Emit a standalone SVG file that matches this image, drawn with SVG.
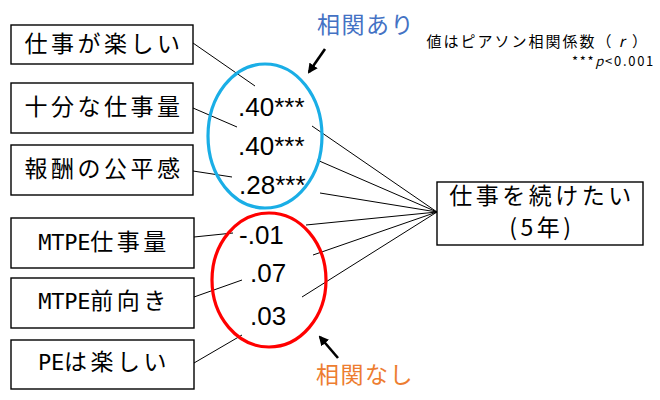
<svg xmlns="http://www.w3.org/2000/svg" width="660" height="400" viewBox="0 0 660 400">
<defs>
<style>
.box{fill:#fff;stroke:#000;stroke-width:1.4}
.lbl{font-family:"Noto Sans CJK JP","Noto Sans",sans-serif;font-size:23px;letter-spacing:3.5px;fill:#000;text-anchor:middle}
.lat{font-family:"DejaVu Sans Mono","Liberation Mono",monospace;font-size:22px;letter-spacing:-0.3px}
.num{font-family:"Liberation Sans",Arial,sans-serif;font-size:26px;fill:#000}
.conn line{stroke:#000;stroke-width:1}
.note{font-family:"Noto Sans CJK JP","Noto Sans",sans-serif;fill:#000;text-anchor:end}
.arr{stroke:#000;stroke-width:2.6;fill:none}
</style>
<marker id="ah" viewBox="0 0 10 10" refX="8" refY="5" markerWidth="10" markerHeight="10" markerUnits="userSpaceOnUse" orient="auto">
<path d="M0,0 L10,5 L0,10 Z" fill="#000"/>
</marker>
</defs>
<rect width="660" height="400" fill="#fff"/>

<g class="conn" id="connectors">
<line x1="193" y1="43" x2="255" y2="86"/>
<line x1="312" y1="126" x2="437" y2="212"/>
<line x1="193" y1="108" x2="237" y2="127"/>
<line x1="317" y1="160" x2="437" y2="212"/>
<line x1="193" y1="171" x2="232" y2="177"/>
<line x1="320" y1="193" x2="437" y2="212"/>
<line x1="194" y1="237" x2="233" y2="233"/>
<line x1="306" y1="225" x2="437" y2="212"/>
<line x1="194" y1="297" x2="242" y2="280"/>
<line x1="313" y1="255" x2="437" y2="212"/>
<line x1="194" y1="363" x2="242" y2="335"/>
<line x1="302" y1="297" x2="437" y2="212"/>
</g>

<g id="n1"><rect class="box" x="11" y="25" width="182" height="39"/><text class="lbl" x="104" y="52">仕事が楽しい</text></g>
<g id="n2"><rect class="box" x="11" y="83" width="182" height="50"/><text class="lbl" x="104" y="115">十分な仕事量</text></g>
<g id="n3"><rect class="box" x="11" y="145" width="182" height="50"/><text class="lbl" x="104" y="177">報酬の公平感</text></g>
<g id="n4"><rect class="box" x="11" y="218" width="183" height="50"/><text class="lbl" x="104" y="250"><tspan class="lat">MTPE</tspan>仕事量</text></g>
<g id="n5"><rect class="box" x="11" y="278" width="183" height="50"/><text class="lbl" x="104" y="309"><tspan class="lat">MTPE</tspan>前向き</text></g>
<g id="n6"><rect class="box" x="11" y="340" width="183" height="49"/><text class="lbl" x="104" y="370"><tspan class="lat">PE</tspan>は楽しい</text></g>

<g id="target"><rect class="box" x="437" y="182" width="206" height="63"/>
<text class="lbl" x="542" y="204">仕事を続けたい</text>
<text class="lbl" x="542" y="236">(5年)</text></g>

<g id="group-sig">
<ellipse cx="265" cy="136" rx="57" ry="72" fill="none" stroke="#1AAEE6" stroke-width="3.2"/>
<text class="num" x="238" y="116">.40***</text>
<text class="num" x="238" y="155">.40***</text>
<text class="num" x="239" y="194">.28***</text>
</g>

<g id="group-nosig">
<ellipse cx="269" cy="280" rx="57" ry="67" fill="none" stroke="#FF0000" stroke-width="3.2"/>
<text class="num" x="239" y="244">-.01</text>
<text class="num" x="250" y="282">.07</text>
<text class="num" x="250" y="325">.03</text>
</g>

<g id="label-sig">
<text x="317" y="33" font-family="Noto Sans CJK JP, sans-serif" font-size="23" letter-spacing="1.5" fill="#4472C4">相関あり</text>
<line class="arr" x1="325" y1="49" x2="309" y2="72" marker-end="url(#ah)"/>
</g>
<g id="label-nosig">
<text x="316" y="383" font-family="Noto Sans CJK JP, sans-serif" font-size="23" letter-spacing="1.5" fill="#ED7D31">相関なし</text>
<line class="arr" x1="338" y1="358" x2="320" y2="337" marker-end="url(#ah)"/>
</g>

<g id="note">
<text class="note" x="649" y="47" font-size="15" letter-spacing="2">値はピアソン相関係数（<tspan font-style="italic"> r </tspan>）</text>
<text class="note" x="655" y="66" font-size="13" letter-spacing="1.7">***<tspan font-style="italic">p</tspan>&lt;0.001</text>
</g>
</svg>
